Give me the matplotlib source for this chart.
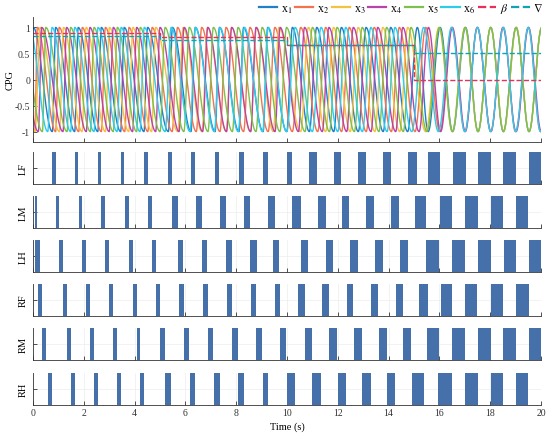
import numpy as np
import matplotlib
matplotlib.use("Agg")
import matplotlib.pyplot as plt

plt.rcParams['font.family'] = ['Liberation Serif', 'DejaVu Serif']
plt.rcParams['mathtext.fontset'] = 'stix'

# swing bars: start time (s) and width (s) per leg
legs = ['LF', 'LM', 'LH', 'RF', 'RM', 'RH']

lf_start = [0.76, 1.64, 2.55, 3.45, 4.37, 5.33, 6.22, 7.17, 8.11, 9.06, 9.99,
            10.88, 11.84, 12.81, 13.79, 14.75, 15.56, 16.52, 17.52, 18.52, 19.53]
lf_width = [0.13, 0.14, 0.14, 0.14, 0.14, 0.16, 0.17, 0.17, 0.18, 0.18, 0.22,
            0.29, 0.30, 0.30, 0.29, 0.38, 0.47, 0.51, 0.50, 0.50, 0.50]

lm_start = [0.07, 0.89, 1.80, 2.69, 3.61, 4.52, 5.48, 6.43, 7.36, 8.29, 9.26,
            10.21, 11.21, 12.15, 13.12, 14.11, 15.04, 16.02, 17.00, 18.02, 19.00]
lm_width = [0.10, 0.14, 0.14, 0.16, 0.17, 0.17, 0.21, 0.21, 0.24, 0.25, 0.26,
            0.33, 0.31, 0.30, 0.31, 0.31, 0.42, 0.47, 0.50, 0.50, 0.50]

lh_start = [0.08, 1.04, 1.93, 2.85, 3.77, 4.67, 5.70, 6.65, 7.61, 8.56, 9.46,
            10.54, 11.52, 12.49, 13.46, 14.44, 15.46, 16.51, 17.52, 18.53, 19.53]
lh_width = [0.20, 0.16, 0.16, 0.16, 0.16, 0.16, 0.21, 0.22, 0.21, 0.24, 0.22,
            0.30, 0.31, 0.31, 0.31, 0.31, 0.52, 0.50, 0.50, 0.50, 0.50]

rf_start = [0.21, 1.18, 2.10, 3.00, 3.92, 4.83, 5.75, 6.68, 7.62, 8.57, 9.53,
            10.45, 11.39, 12.35, 13.31, 14.28, 15.20, 16.05, 17.02, 18.03, 19.02]
rf_width = [0.13, 0.14, 0.14, 0.16, 0.16, 0.17, 0.20, 0.20, 0.20, 0.21, 0.20,
            0.24, 0.26, 0.26, 0.26, 0.28, 0.37, 0.46, 0.47, 0.47, 0.49]

rm_start = [0.37, 1.34, 2.26, 3.16, 4.08, 5.00, 5.94, 6.89, 7.85, 8.78, 9.72,
            10.71, 11.67, 12.65, 13.62, 14.58, 15.51, 16.51, 17.52, 18.52, 19.53]
rm_width = [0.13, 0.14, 0.14, 0.16, 0.14, 0.20, 0.21, 0.21, 0.22, 0.24, 0.26,
            0.29, 0.30, 0.31, 0.30, 0.30, 0.49, 0.50, 0.50, 0.50, 0.50]

rh_start = [0.58, 1.48, 2.40, 3.31, 4.21, 5.20, 6.18, 7.14, 8.08, 9.04,
            9.99, 11.00, 12.00, 12.97, 13.94, 14.91, 15.96, 17.00, 18.02, 19.00]
rh_width = [0.17, 0.16, 0.16, 0.16, 0.17, 0.24, 0.21, 0.22, 0.24, 0.22,
            0.33, 0.34, 0.31, 0.33, 0.31, 0.47, 0.52, 0.50, 0.50, 0.50]

starts = [lf_start, lm_start, lh_start, rf_start, rm_start, rh_start]
widths = [lf_width, lm_width, lh_width, rf_width, rm_width, rh_width]

# step parameters (dashed lines)
seg_t = [0, 5, 10, 15, 20]
beta = [0.90, 0.82, 0.67, 0.0]
nabla = [0.84, 0.76, 0.66, 0.5]

cpg_labels = ['x$_1$', 'x$_2$', 'x$_3$', 'x$_4$', 'x$_5$', 'x$_6$']
cpg_colors = ['#1F7FC8', '#F2734F', '#F4C23F', '#B844A8', '#7DC04C', '#2FCBEA']
bar_color = '#4670A9'


def cpg_trace(s, w, t):
    # oscillator rises during the swing bar, falls during stance
    s = np.array(s)
    e = s + np.array(w)
    p, q = s[1] - s[0], s[-1] - s[-2]
    s = np.r_[s[0] - p, s, s[-1] + q]
    e = np.r_[e[0] - p, e, e[-1] + q]
    k = np.arange(len(s))
    knots = np.column_stack([s, e]).ravel()
    ph = np.column_stack([2 * np.pi * k + np.pi, 2 * np.pi * (k + 1)]).ravel()
    return np.cos(np.interp(t, knots, ph))


fig = plt.figure(figsize=(5.5, 4.35), dpi=100)
W, H = 550.0, 435.0
x0, x1 = 33, 541


def add_ax(top, bottom):
    return fig.add_axes([x0 / W, 1 - bottom / H, (x1 - x0) / W, (bottom - top) / H])


def style(ax):
    for sp in ['top', 'right']:
        ax.spines[sp].set_visible(False)
    for sp in ['left', 'bottom']:
        ax.spines[sp].set_color('#333333')
        ax.spines[sp].set_linewidth(0.6)
    ax.tick_params(direction='in', length=3, width=0.6, labelsize=7,
                   colors='#333333', pad=2)
    ax.set_xlim(0, 20)
    ax.set_xticks(range(0, 21, 2))


# CPG panel
ax = add_ax(18, 143)
style(ax)
t = np.linspace(0, 20, 8000)
for i in range(6):
    ax.plot(t, cpg_trace(starts[i], widths[i], t), color=cpg_colors[i], lw=1.0,
            label=cpg_labels[i])
ax.step(seg_t, beta + [beta[-1]], where='post', color='#E8305A', ls='--', lw=1.0,
        label=r'$\beta$')
ax.step(seg_t, nabla + [nabla[-1]], where='post', color='#11A3B5', ls='--', lw=1.0,
        label=r'$\nabla$')
ax.set_ylim(-1.2, 1.2)
ax.set_yticks([-1, -0.5, 0, 0.5, 1])
ax.set_yticklabels(['-1', '-0.5', '0', '0.5', '1'])
ax.set_xticklabels([])
ax.set_ylabel('CPG', fontsize=7.5, labelpad=0)
leg = fig.legend(loc='center right', bbox_to_anchor=(543 / W, 1 - 9 / H), ncol=8,
                 frameon=False, fontsize=8.5, handlelength=1.55, handletextpad=0.3,
                 columnspacing=0.25, borderpad=0, borderaxespad=0)
for ln in leg.get_lines():
    ln.set_linewidth(1.6)

# gait panels
tops = [153, 197, 241, 285, 329, 374]
for i, name in enumerate(legs):
    ax = add_ax(tops[i], tops[i] + 32)
    style(ax)
    ax.grid(True, color='#ededed', lw=0.5)
    ax.set_axisbelow(True)
    ax.bar(starts[i], 1, width=widths[i], align='edge', color=bar_color, lw=0)
    ax.set_ylim(0, 1)
    ax.set_yticks([0.5])
    ax.set_yticklabels([])
    ax.set_ylabel(name, fontsize=7.5, labelpad=2)
    if i < 5:
        ax.set_xticklabels([])
    else:
        ax.set_xlabel('Time (s)', fontsize=7.5, labelpad=3)

fig.savefig('out.png', dpi=100)
